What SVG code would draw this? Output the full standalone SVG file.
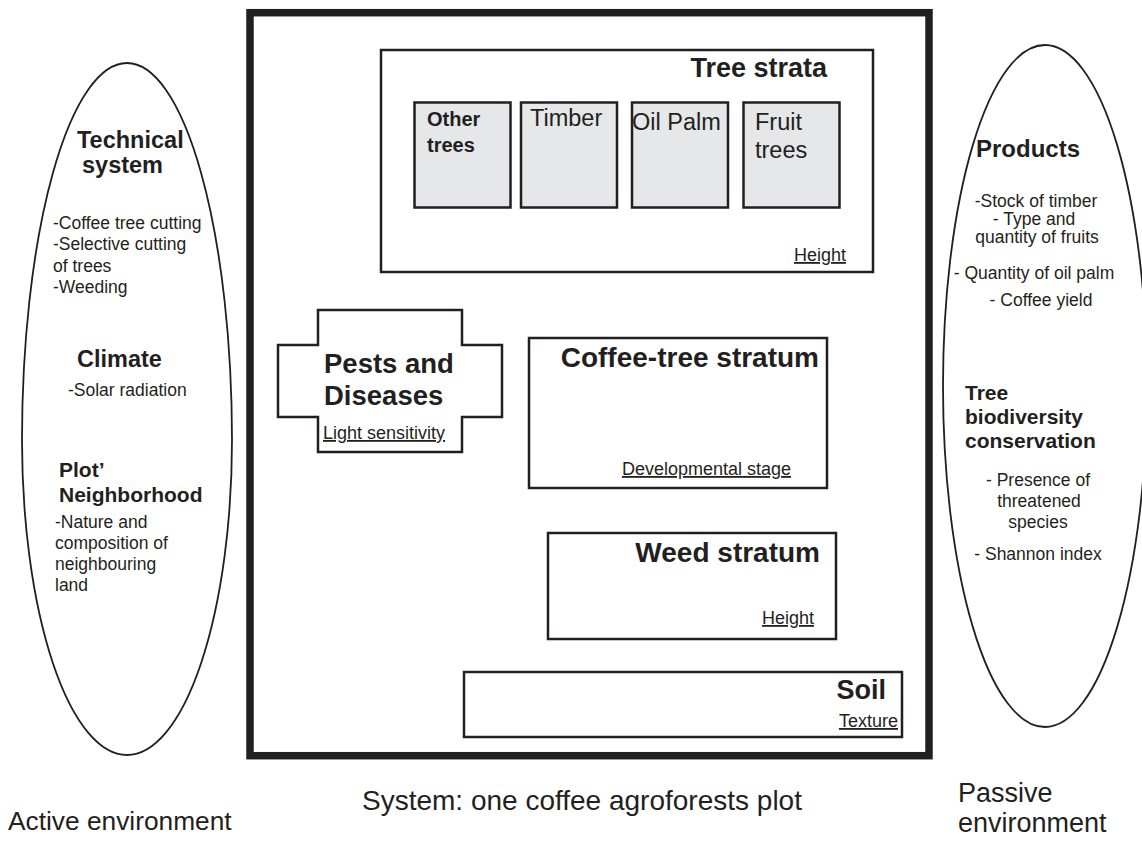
<svg xmlns="http://www.w3.org/2000/svg" width="1142" height="843" viewBox="0 0 1142 843">
<style>
text{font-family:"Liberation Sans",Arial,sans-serif;fill:#231f20}
.b{font-weight:bold}
.t28{font-size:28px}
.h23{font-size:23.5px}
.h21{font-size:21px}
.t17{font-size:17.5px}
.t18{font-size:18px}
.big{font-size:27px}
.u{text-decoration:underline}
.end{text-anchor:end}
.mid{text-anchor:middle}
.box{fill:#fff;stroke:#231f20;stroke-width:2.5}
.gray{fill:#e6e7e8;stroke:#231f20;stroke-width:2.5}
.ell{fill:none;stroke:#231f20;stroke-width:1.8}
</style>
<rect width="1142" height="843" fill="#fff"/>

<g id="active-environment">
<path class="ell" d="M127,63 A105,377 0 0 0 22,440 A105,315 0 0 0 127,755 A105,315 0 0 0 232,440 A105,377 0 0 0 127,63 Z"/>
<text class="b h23" x="77" y="148">Technical</text>
<text class="b h23" x="82" y="173">system</text>
<text class="t17" x="53" y="229">-Coffee tree cutting</text>
<text class="t17" x="53" y="250">-Selective cutting</text>
<text class="t17" x="53" y="272">of trees</text>
<text class="t17" x="53" y="293">-Weeding</text>
<text class="b h23" x="77" y="367">Climate</text>
<text class="t17" x="68" y="396">-Solar radiation</text>
<text class="b h21" x="59" y="477">Plot’</text>
<text class="b h21" x="59" y="502">Neighborhood</text>
<text class="t17" x="55" y="528">-Nature and</text>
<text class="t17" x="55" y="549">composition of</text>
<text class="t17" x="55" y="570">neighbouring</text>
<text class="t17" x="55" y="591">land</text>
<text font-size="26.3" x="8" y="830">Active environment</text>
</g>

<g id="system">
<rect x="250" y="12.7" width="679" height="743" fill="none" stroke="#231f20" stroke-width="7.5"/>
<text class="t28" x="362" y="810">System: one coffee agroforests plot</text>
</g>

<g id="tree-strata">
<rect class="box" x="381" y="50" width="492" height="222"/>
<text class="b" font-size="27" text-anchor="end" x="827" y="77">Tree strata</text>
<text class="t18 u end" x="846" y="261">Height</text>
</g>
<g id="other-trees">
<rect class="gray" x="414.5" y="102.5" width="96" height="105"/>
<text class="b" font-size="20" x="427" y="126">Other</text>
<text class="b" font-size="20" x="427" y="152">trees</text>
</g>
<g id="timber">
<rect class="gray" x="521" y="102.5" width="96" height="105"/>
<text font-size="23.5" x="530" y="126">Timber</text>
</g>
<g id="oil-palm">
<rect class="gray" x="632" y="102.5" width="96" height="105"/>
<text font-size="23.5" x="632" y="130">Oil Palm</text>
</g>
<g id="fruit-trees">
<rect class="gray" x="743.5" y="102.5" width="96" height="105"/>
<text font-size="23.5" x="755" y="130">Fruit</text>
<text font-size="23.5" x="755" y="158">trees</text>
</g>

<g id="pests-diseases">
<path class="box" d="M318,310 H462 V345 H502 V417 H462 V452 H318 V417 H278 V345 H318 Z"/>
<text class="b" font-size="27.5" x="324" y="373">Pests and</text>
<text class="b" font-size="27.5" x="324" y="405">Diseases</text>
<text class="t18 u" x="323" y="439">Light sensitivity</text>
</g>

<g id="coffee-tree-stratum">
<rect class="box" x="529" y="338" width="298" height="150"/>
<text class="b t28 end" x="819" y="367">Coffee-tree stratum</text>
<text class="t18 u end" x="791" y="475">Developmental stage</text>
</g>

<g id="weed-stratum">
<rect class="box" x="548" y="533" width="288" height="106"/>
<text class="b t28 end" x="820" y="562">Weed stratum</text>
<text class="t18 u end" x="814" y="624">Height</text>
</g>

<g id="soil">
<rect class="box" x="464" y="672" width="438" height="65"/>
<text class="b" font-size="27" text-anchor="end" x="886" y="699">Soil</text>
<text class="t18 u end" x="898" y="727">Texture</text>
</g>

<g id="passive-environment">
<ellipse class="ell" cx="1045" cy="386" rx="102" ry="341"/>
<text class="b" font-size="24" x="976" y="157">Products</text>
<text class="t17 mid" x="1036" y="207">-Stock of timber</text>
<text class="t17 mid" x="1034" y="225">- Type and</text>
<text class="t17 mid" x="1037" y="243">quantity of fruits</text>
<text class="t17 mid" x="1034" y="279">- Quantity of oil palm</text>
<text class="t17 mid" x="1041" y="306">- Coffee yield</text>
<text class="b h21" x="965" y="400">Tree</text>
<text class="b h21" x="965" y="424">biodiversity</text>
<text class="b h21" x="965" y="448">conservation</text>
<text class="t17 mid" x="1038" y="486">- Presence of</text>
<text class="t17 mid" x="1039" y="507">threatened</text>
<text class="t17 mid" x="1038" y="528">species</text>
<text class="t17 mid" x="1038" y="560">- Shannon index</text>
<text class="big" x="958" y="802">Passive</text>
<text class="big" x="958" y="832">environment</text>
</g>

<g id="connectors"></g>
</svg>
